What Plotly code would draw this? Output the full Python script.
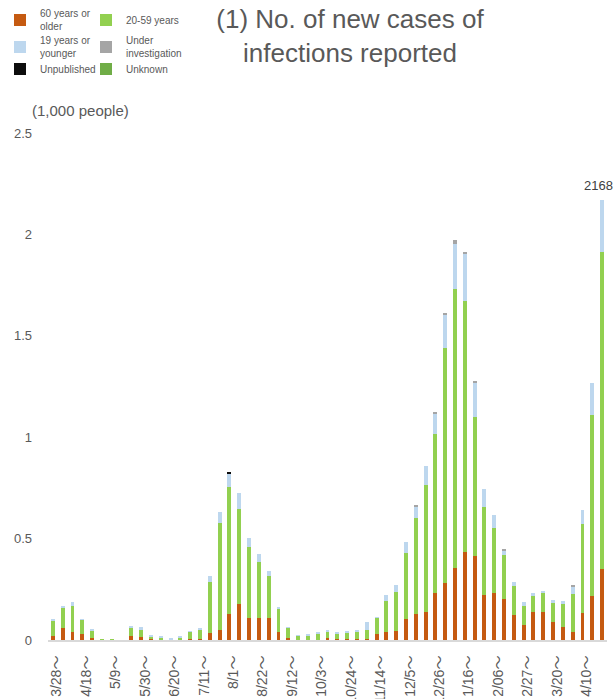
import numpy as np
import plotly.graph_objects as go

# Week start dates (categories)
weeks = ["3/28", "4/4", "4/11", "4/18", "4/25", "5/2", "5/9", "5/16", "5/23", "5/30",
         "6/6", "6/13", "6/20", "6/27", "7/4", "7/11", "7/18", "7/25", "8/1", "8/8",
         "8/15", "8/22", "8/29", "9/5", "9/12", "9/19", "9/26", "10/3", "10/10", "10/17",
         "10/24", "10/31", "11/7", "11/14", "11/21", "11/28", "12/5", "12/12", "12/19", "12/26",
         "1/2", "1/9", "1/16", "1/23", "1/30", "2/06", "2/13", "2/20", "2/27", "3/6",
         "3/13", "3/20", "3/27", "4/3", "4/10", "4/17", "4/24"]

# New cases per week (people)
over60 = [21, 61, 39, 30, 11, 0, 0, 0, 20, 15,
          5, 3, 0, 2, 5, 5, 34, 51, 130, 179,
          110, 110, 110, 41, 11, 1, 1, 1, 11, 7,
          3, 5, 5, 31, 41, 44, 105, 126, 138, 233,
          281, 356, 435, 415, 223, 233, 204, 125, 76, 136,
          140, 89, 66, 41, 135, 215, 348]
age20_59 = [73, 97, 130, 70, 38, 4, 3, 0, 41, 34,
            13, 8, 4, 9, 36, 48, 253, 525, 624, 465,
            348, 276, 207, 113, 50, 22, 22, 30, 32, 26,
            35, 39, 46, 79, 152, 192, 324, 475, 626, 782,
            1159, 1375, 1238, 684, 432, 320, 216, 143, 91, 79,
            96, 95, 113, 187, 438, 895, 1565]
under19 = [6, 8, 18, 3, 4, 0, 0, 0, 6, 15,
           2, 4, 1, 4, 3, 6, 31, 53, 69, 83,
           44, 38, 23, 9, 3, 1, 3, 7, 3, 3,
           3, 5, 38, 3, 27, 35, 54, 56, 93, 102,
           163, 223, 228, 172, 90, 61, 23, 18, 19, 17,
           5, 15, 15, 35, 67, 158, 255]
investigating = [0, 0, 0, 0, 0, 0, 0, 0, 0, 0,
                 0, 0, 0, 0, 0, 0, 0, 0, 0, 0,
                 0, 0, 0, 0, 0, 0, 0, 0, 0, 0,
                 0, 0, 0, 0, 0, 0, 0, 10, 0, 9,
                 9, 20, 14, 5, 0, 0, 5, 0, 0, 0,
                 0, 0, 0, 10, 0, 0, 0]
unpublished = [0] * 18 + [5] + [0] * 38
unknown = [0] * 57

series_names = ["60 years or<br>older", "20-59 years", "19 years or<br>younger",
                "Under<br>investigation", "Unpublished", "Unknown"]
series_values = [over60, age20_59, under19, investigating, unpublished, unknown]
series_colors = ["#C55A11", "#92D050", "#BDD7EE", "#A5A5A5", "#0D0D0D", "#70AD47"]

tick_weeks = weeks[::3]
tick_text = [w + "～" for w in tick_weeks]
y_ticks = [0, 0.5, 1, 1.5, 2, 2.5]
y_tick_text = ["0", "0.5", "1", "1.5", "2", "2.5"]

GRAY = "#595959"
FONT = "Liberation Sans, Arial, Noto Sans CJK JP, sans-serif"

# plot area geometry (px)
L, R, T, B = 48, 7, 133, 59
W, H = 614, 699
PW, PH = W - L - R, H - T - B


def px_x(x):
    return (x - L) / PW


def px_y(y):
    return (H - B - y) / PH


# legend grid: two columns, three rows (pixel positions of each entry)
legend_ids = ["legend", "legend2", "legend3", "legend4", "legend5", "legend6"]
legend_px = [(0, 20), (86, 20), (0, 47), (86, 47), (0, 69), (86, 69)]

fig = go.Figure()
for name, vals, col, lg in zip(series_names, series_values, series_colors, legend_ids):
    fig.add_trace(go.Bar(
        x=weeks, y=np.array(vals) / 1000.0, name=name, legend=lg,
        marker=dict(color=col, line=dict(width=0)),
    ))

totals = [sum(v) for v in zip(*series_values)]
fig.add_annotation(x=weeks[-1], y=totals[-1] / 1000.0, text=str(totals[-1]),
                   showarrow=False, yanchor="bottom", yshift=5, xanchor="center", xshift=-4,
                   font=dict(family=FONT, size=13, color="#404040"))

fig.add_annotation(xref="paper", yref="paper", x=px_x(30), y=px_y(110),
                   xanchor="left", yanchor="middle", text="(1,000 people)",
                   showarrow=False, font=dict(family=FONT, size=15, color=GRAY))

legend_layouts = {}
for lg, (lx, ly) in zip(legend_ids, legend_px):
    legend_layouts[lg] = dict(orientation="v", xanchor="left", yanchor="middle",
                              x=px_x(lx), y=px_y(ly), itemwidth=30,
                              font=dict(family=FONT, size=10, color=GRAY),
                              bgcolor="rgba(0,0,0,0)")

fig.update_layout(
    width=W, height=H,
    margin=dict(l=L, r=R, t=T, b=B, autoexpand=False),
    paper_bgcolor="white", plot_bgcolor="white",
    barmode="stack", bargap=0.6,
    font=dict(family=FONT, color=GRAY),
    title=dict(text="(1) No. of new cases of<br>infections reported",
               x=350 / W, xref="container", xanchor="center",
               y=1 - 28 / H, yref="container", yanchor="top",
               font=dict(family=FONT, size=26, color=GRAY)),
    showlegend=True,
    xaxis=dict(type="category", categoryorder="array", categoryarray=weeks,
               range=[-0.5, len(weeks) - 0.5],
               tickmode="array", tickvals=tick_weeks, ticktext=tick_text,
               tickangle=-90, tickfont=dict(family=FONT, size=14, color=GRAY),
               ticklabelstandoff=8, ticklabelshift=4,
               showgrid=False, showline=True, linecolor="#D9D9D9", linewidth=2,
               ticks="", zeroline=False),
    yaxis=dict(range=[0, 2.5], tickmode="array", tickvals=y_ticks, ticktext=y_tick_text,
               tickfont=dict(family=FONT, size=13, color=GRAY),
               showgrid=False, zeroline=False, showline=False, ticks="",
               ticklabelstandoff=15),
    **legend_layouts,
)

fig.write_html("out.html", config={"displayModeBar": False},
               post_script="document.body.style.margin='0';")
